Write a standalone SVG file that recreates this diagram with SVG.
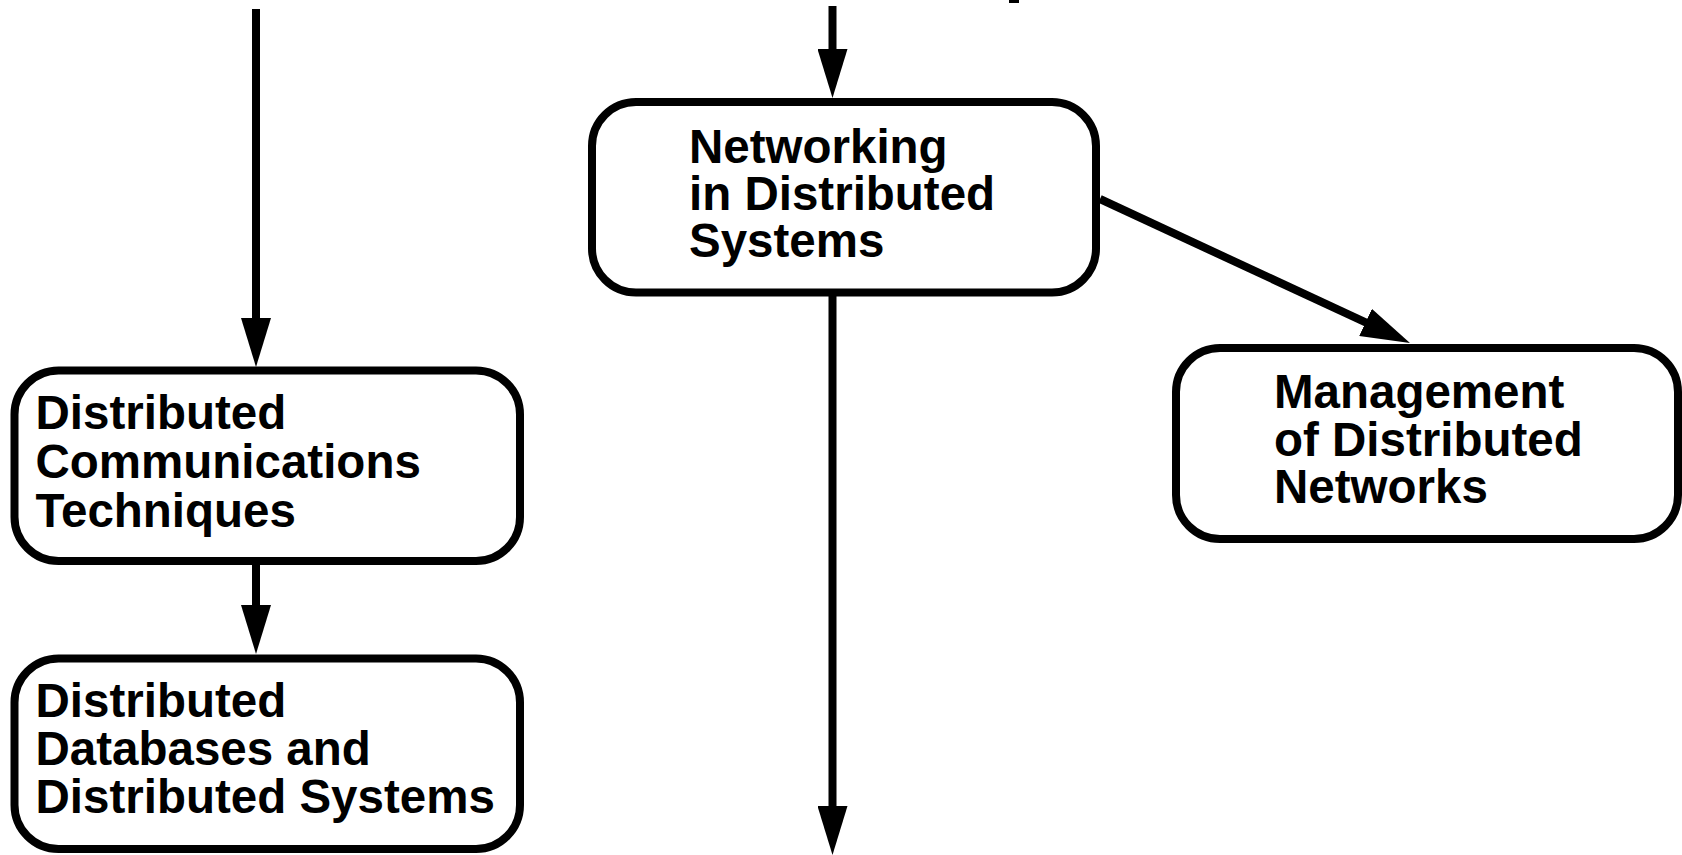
<svg xmlns="http://www.w3.org/2000/svg" width="1682" height="855" viewBox="0 0 1682 855">
<style>
.box{fill:#fff;stroke:#000;stroke-width:8}
.lbl{font-family:"Liberation Sans",Arial,Helvetica,sans-serif;font-weight:bold;font-size:47.5px;fill:#000}
.edge{stroke:#000;stroke-width:8;fill:none;marker-end:url(#ah)}
</style>
<defs>
<marker id="ah" viewBox="0 0 49 30" markerWidth="49" markerHeight="30" markerUnits="userSpaceOnUse" refX="9" refY="15" orient="auto">
<path d="M0,0 L49,15 L0,30 z" fill="#000"/>
</marker>
</defs>
<rect x="0" y="0" width="1682" height="855" fill="#fff"/>
<rect x="1009" y="0" width="10" height="3" fill="#000"/>
<g id="connectors">
<line class="edge" x1="256" y1="9" x2="256" y2="327"/>
<line class="edge" x1="256" y1="565" x2="256" y2="614"/>
<line class="edge" x1="832.5" y1="6" x2="832.5" y2="58"/>
<line class="edge" x1="832.5" y1="296" x2="832.5" y2="815"/>
<line class="edge" x1="1100" y1="199" x2="1373.7" y2="326.2"/>
</g>
<g id="node-dct">
<rect class="box" x="14.5" y="370.5" width="505.5" height="190.5" rx="44"/>
<text class="lbl" x="35.5" y="429">Distributed</text>
<text class="lbl" x="35.5" y="478">Communications</text>
<text class="lbl" x="35.5" y="527">Techniques</text>
</g>
<g id="node-ddb">
<rect class="box" x="14.5" y="658.5" width="505.5" height="190.5" rx="44"/>
<text class="lbl" x="35.5" y="717">Distributed</text>
<text class="lbl" x="35.5" y="765">Databases and</text>
<text class="lbl" x="35.5" y="813">Distributed Systems</text>
</g>
<g id="node-networking">
<rect class="box" x="592" y="102" width="504" height="190.5" rx="44"/>
<text class="lbl" x="689" y="163">Networking</text>
<text class="lbl" x="689" y="210">in Distributed</text>
<text class="lbl" x="689" y="257">Systems</text>
</g>
<g id="node-management">
<rect class="box" x="1176" y="348" width="502" height="191" rx="44"/>
<text class="lbl" x="1274" y="408">Management</text>
<text class="lbl" x="1274" y="456">of Distributed</text>
<text class="lbl" x="1274" y="503">Networks</text>
</g>
</svg>
